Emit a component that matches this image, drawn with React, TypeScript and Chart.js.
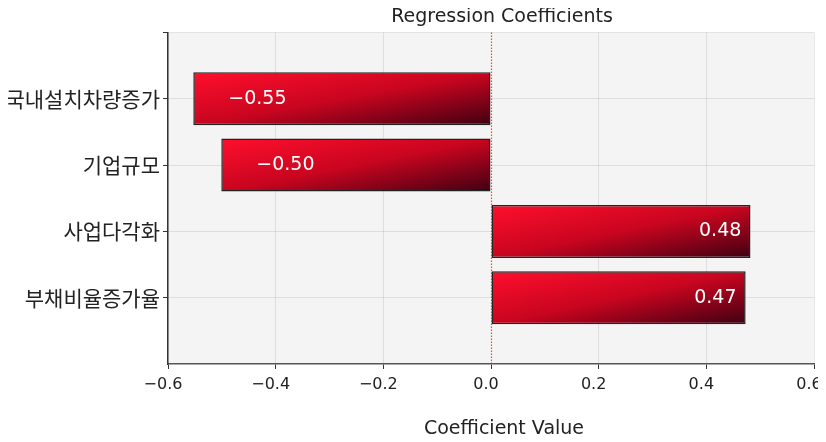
import React, { useEffect, useRef } from "react";
import { Chart, registerables } from "chart.js";

Chart.register(...registerables);

const categories = ["국내설치차량증가", "기업규모", "사업다각화", "부채비율증가율"];
const coefficients = [-0.553, -0.501, 0.482, 0.473];
const xTicks = [-0.6, -0.4, -0.2, 0.0, 0.2, 0.4, 0.6];
const chartTitle = "Regression Coefficients";
const xTitle = "Coefficient Value";

const FONT = "'DejaVu Sans', 'Noto Sans CJK KR', sans-serif";
const KFONT = "'Noto Sans CJK KR', 'DejaVu Sans', sans-serif";

function fmt(v: number, d: number) {
  return v.toFixed(d).replace("-", "\u2212");
}

export default function App() {
  const ref = useRef<HTMLCanvasElement | null>(null);

  useEffect(() => {
    if (!ref.current) return;

    const bgPlugin = {
      id: "bg",
      beforeDraw(chart: any) {
        const { ctx, chartArea: a } = chart;
        ctx.save();
        ctx.fillStyle = "#f4f4f4";
        ctx.fillRect(a.left, a.top, a.right - a.left, a.bottom - a.top);
        ctx.restore();
      },
    };

    const overlayPlugin = {
      id: "overlay",
      afterDraw(chart: any) {
        const { ctx, chartArea: a } = chart;
        const xs = chart.scales.x;
        const ys = chart.scales.y;
        ctx.save();
        // zero line
        const x0 = Math.round(xs.getPixelForValue(0)) + 0.5;
        ctx.strokeStyle = "rgba(235,40,40,0.85)";
        ctx.lineWidth = 1.2;
        ctx.setLineDash([1.5, 1.5]);
        ctx.beginPath();
        ctx.moveTo(x0, a.top);
        ctx.lineTo(x0, a.bottom);
        ctx.stroke();
        ctx.setLineDash([]);
        // value labels
        ctx.fillStyle = "#ffffff";
        ctx.font = `19px ${FONT}`;
        ctx.textBaseline = "middle";
        coefficients.forEach((v, i) => {
          const y = ys.getPixelForValue(i);
          if (v < 0) {
            ctx.textAlign = "left";
            ctx.fillText(fmt(v, 2), xs.getPixelForValue(v + 0.065), y);
          } else {
            ctx.textAlign = "right";
            ctx.fillText(fmt(v, 2), xs.getPixelForValue(v - 0.017), y);
          }
        });
        // titles
        ctx.fillStyle = "#222";
        ctx.textAlign = "center";
        ctx.font = `19px ${FONT}`;
        ctx.fillText(chartTitle, 494, 9);
        ctx.fillText(xTitle, 496, 421);
        ctx.restore();
      },
    };

    const chart = new Chart(ref.current, {
      type: "bar",
      data: {
        datasets: [
          {
            data: coefficients.map((v, i) => ({ x: v, y: i })),
            backgroundColor: (context: any) => {
              const chart = context.chart;
              if (!chart.chartArea || context.type !== "data" || !context.raw) return "#d00820";
              const xs = chart.scales.x;
              const ys = chart.scales.y;
              const v = context.raw.x;
              const idx = context.raw.y;
              const left = xs.getPixelForValue(Math.min(v, 0));
              const right = xs.getPixelForValue(Math.max(v, 0));
              const top = ys.getPixelForValue(idx - 0.4);
              const bottom = ys.getPixelForValue(idx + 0.4);
              const w = right - left;
              const h = bottom - top;
              const k = (2 * w * h) / (w * w + h * h);
              const g = chart.ctx.createLinearGradient(left, top, left + h * k, top + w * k);
              g.addColorStop(0, "#ff0f2d");
              g.addColorStop(0.5, "#c9051f");
              g.addColorStop(1, "#3f0012");
              return g;
            },
            borderColor: "#222",
            borderWidth: 1.5,
            borderSkipped: false,
            barPercentage: 1,
            categoryPercentage: 0.8,
          },
        ],
      },
      options: {
        indexAxis: "y",
        animation: false,
        responsive: true,
        maintainAspectRatio: false,
        layout: { padding: { top: 24.5, right: 12, left: 0, bottom: 0 } },
        plugins: {
          legend: { display: false },
          title: { display: false },
          tooltip: { enabled: false },
        },
        scales: {
          x: {
            type: "linear",
            min: -0.6,
            max: 0.6,
            z: 1,
            afterBuildTicks: (scale: any) => {
              scale.ticks = xTicks.map((v) => ({ value: v }));
            },
            afterFit: (scale: any) => {
              scale.height = 78;
              scale.paddingLeft = 0;
              scale.paddingRight = 0;
            },
            ticks: {
              callback: (v: any) => fmt(Number(v), 1),
              font: { family: FONT, size: 16 },
              color: "#222",
              padding: 6,
              labelOffset: -5,
              maxRotation: 0,
            },
            grid: {
              offset: false,
              color: (ctx: any) =>
                ctx.tick && Math.abs(ctx.tick.value) < 1e-9 ? "rgba(0,0,0,0)" : "rgba(0,0,0,0.09)",
              tickColor: "#333",
              tickLength: 5,
              lineWidth: 1,
            },
            border: { color: "#555", width: 1.5 },
          },
          y: {
            type: "linear",
            reverse: true,
            offset: false,
            min: -1,
            max: 4,
            z: 1,
            afterBuildTicks: (scale: any) => {
              scale.ticks = [-1, 0, 1, 2, 3].map((v) => ({ value: v }));
            },
            afterFit: (scale: any) => {
              scale.width = 160;
              scale.paddingTop = 0;
              scale.paddingBottom = 0;
            },
            ticks: {
              callback: (v: any) => categories[Number(v)] ?? "",
              font: { family: KFONT, size: 21 },
              color: "#222",
              padding: 3,
            },
            grid: {
              offset: false,
              color: "rgba(0,0,0,0.09)",
              tickColor: "#333",
              tickLength: 5,
              lineWidth: 1,
            },
            border: { color: "#333", width: 1.5 },
          },
        },
      },
      plugins: [bgPlugin, overlayPlugin],
    } as any);

    return () => chart.destroy();
  }, []);

  return (
    <div style={{ width: 818, height: 434, position: "relative" }}>
      <canvas ref={ref} />
    </div>
  );
}
